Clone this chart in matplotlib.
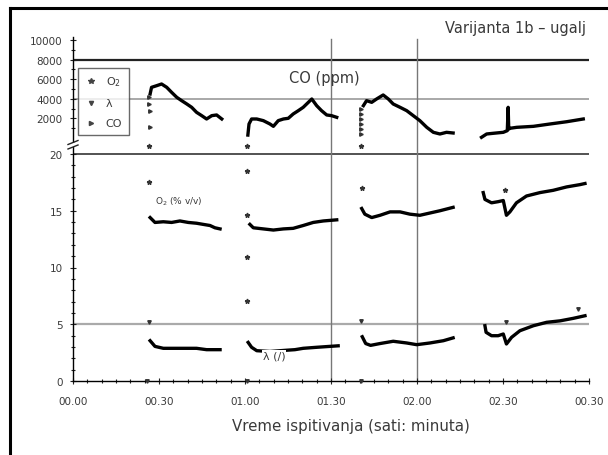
import matplotlib
matplotlib.use('Agg')
import matplotlib.pyplot as plt
from matplotlib.lines import Line2D
from matplotlib.patches import Rectangle

# ---------------- data (time in minutes) ----------------
co_t1 = [26.9, 27.4, 29.2, 30.9, 32.7, 34.4, 36.2, 37.9, 39.7, 41.4, 43.1, 44.9, 46.6, 48.4, 50.1, 51.9]
co_v1 = [4490, 5170, 5340, 5510, 5170, 4660, 4150, 3810, 3470, 3130, 2620, 2280, 1940, 2280, 2350, 1940]
co_t2 = [61.0, 61.4, 62.3, 64.1, 66.4, 68.7, 69.9, 71.6, 73.4, 75.1, 76.8, 78.6, 80.3, 82.1, 83.3, 85.0, 86.7, 88.5, 90.2, 92.0]
co_v2 = [300, 1430, 1940, 1940, 1770, 1430, 1190, 1770, 1940, 2010, 2450, 2790, 3130, 3640, 3980, 3300, 2790, 2350, 2280, 2110]
co_t3 = [101.3, 102.4, 104.2, 105.9, 108.2, 110.0, 111.7, 114.1, 116.4, 118.7, 121.0, 123.4, 125.7, 128.0, 130.3, 132.6]
co_v3 = [3300, 3810, 3640, 3980, 4390, 3980, 3470, 3130, 2790, 2280, 1770, 1090, 580, 410, 580, 510]
co_t4 = [142.5, 144.3, 146.6, 150.1, 151.5, 151.8, 152.0, 152.4, 154.8, 160.6, 166.4, 172.2, 178.0]
co_v4 = [70, 410, 480, 580, 750, 3130, 900, 990, 1090, 1190, 1430, 1660, 1940]

o2_t1 = [26.9, 28.6, 31.5, 34.4, 37.3, 40.2, 43.1, 45.4, 47.8, 49.5, 51.3]
o2_v1 = [14.4, 13.97, 14.03, 13.97, 14.1, 13.97, 13.9, 13.8, 13.7, 13.5, 13.4]
o2_t2 = [61.7, 62.9, 66.4, 69.9, 73.4, 76.8, 80.3, 83.8, 87.3, 92.0]
o2_v2 = [13.8, 13.5, 13.4, 13.3, 13.4, 13.45, 13.7, 13.97, 14.1, 14.2]
o2_t3 = [100.7, 101.8, 104.2, 107.1, 110.6, 114.1, 117.5, 121.0, 124.5, 128.0, 132.6]
o2_v3 = [15.2, 14.7, 14.4, 14.6, 14.9, 14.9, 14.7, 14.6, 14.8, 15.0, 15.3]
o2_t4 = [143.1, 143.7, 146.0, 148.3, 150.1, 151.2, 152.4, 154.7, 158.2, 162.9, 167.5, 172.2, 176.8, 178.6]
o2_v4 = [16.6, 16.0, 15.7, 15.8, 15.9, 14.6, 14.9, 15.7, 16.3, 16.6, 16.8, 17.1, 17.3, 17.4]

la_t1 = [26.9, 28.6, 31.5, 37.3, 43.1, 46.6, 51.3]
la_v1 = [3.55, 3.05, 2.88, 2.88, 2.88, 2.76, 2.76]
la_t2 = [61.1, 62.3, 64.1, 68.7, 73.9, 77.4, 80.3, 85.0, 89.6, 92.5]
la_v2 = [3.4, 2.97, 2.67, 2.6, 2.7, 2.76, 2.88, 2.97, 3.05, 3.1]
la_t3 = [100.9, 102.1, 103.8, 107.1, 111.7, 116.4, 119.9, 124.5, 129.2, 132.6]
la_v3 = [3.9, 3.3, 3.14, 3.3, 3.5, 3.35, 3.2, 3.35, 3.55, 3.8]
la_t4 = [143.7, 144.1, 146.0, 148.3, 150.1, 151.2, 153.0, 155.9, 160.6, 165.2, 169.9, 174.5, 178.6]
la_v4 = [4.87, 4.29, 3.99, 3.99, 4.14, 3.26, 3.85, 4.43, 4.87, 5.17, 5.3, 5.52, 5.75]

# transient (start-up) readings shown as separate markers
co_tr_t = [26.4, 26.4, 26.9, 26.9, 100.5, 100.5, 100.5, 100.5, 100.5, 100.5]
co_tr_v = [4150, 3470, 2790, 1090, 2960, 2450, 1940, 1430, 920, 410]
o2_tr_t = [26.4, 26.4, 60.8, 60.8, 60.8, 60.8, 60.8, 100.5, 100.7, 150.7]
o2_tr_v = [20.7, 17.5, 20.7, 18.5, 14.6, 10.9, 7.05, 20.7, 17.0, 16.8]
la_tr_t = [26.4, 25.7, 60.8, 100.3, 100.5, 151.1, 176.0]
la_tr_v = [5.17, 0.0, 0.0, 0.0, 5.26, 5.17, 6.3]

x_ticks = [0, 30, 60, 90, 120, 150, 180]
x_labels = ["00.00", "00.30", "01.00", "01.30", "02.00", "02.30", "00.30"]
low_ticks = [0, 5, 10, 15, 20]
up_ticks = [2000, 4000, 6000, 8000, 10000]
vlines_t = [90, 120]

# ---------------- figure ----------------
W, H = 608, 456
fig = plt.figure(figsize=(W / 100, H / 100), dpi=100)
TXT = '#3a3a3a'

def fx(px):
    return px / W

def fy(py):
    return 1 - py / H

left_px, right_px = 73, 589
brk_px = 146
ax_l = fig.add_axes([fx(left_px), fy(382), fx(right_px - left_px), (382 - brk_px) / H])
ax_u = fig.add_axes([fx(left_px), fy(brk_px), fx(right_px - left_px), (brk_px - 38) / H])

ax_l.set_xlim(0, 180)
ax_u.set_xlim(0, 180)
ax_l.set_ylim(0, (382 - brk_px) / 11.35)
ax_u.set_ylim((139 - brk_px) / 0.0098, (139 - 38) / 0.0098)

for ax in (ax_l, ax_u):
    ax.patch.set_alpha(0)
    for s in ('top', 'right'):
        ax.spines[s].set_visible(False)
    ax.spines['left'].set_linewidth(1.0)
    ax.tick_params(which='both', direction='inout', width=0.8, colors='#222',
                   labelcolor=TXT, labelsize=7.5)
    ax.tick_params(which='major', length=5)
    ax.tick_params(which='minor', length=3)
    ax.tick_params(axis='y', pad=5)
ax_u.spines['bottom'].set_visible(False)
ax_u.tick_params(axis='x', which='both', bottom=False, labelbottom=False)
ax_l.spines['bottom'].set_linewidth(1.0)
ax_l.tick_params(axis='x', pad=8)

ax_l.set_xticks(x_ticks)
ax_l.set_xticklabels(x_labels)
ax_l.set_xticks(range(0, 181, 5), minor=True)
ax_l.set_yticks(low_ticks)
ax_l.set_yticks(range(0, 21), minor=True)
ax_u.set_yticks(up_ticks)
ax_u.set_yticks(range(1000, 10001, 1000), minor=True)

# reference lines
ax_u.axhline(8000, color='#222', lw=1.6, zorder=1)
ax_u.axhline(4000, color='#999', lw=1.2, zorder=1)
ax_l.axhline(20, color='#444', lw=1.3, zorder=1)
ax_l.axhline(5, color='#aaa', lw=1.6, zorder=1)
for t in vlines_t:
    ax_l.axvline(t, color='#777', lw=1.0, zorder=1)
    ax_u.axvline(t, color='#777', lw=1.0, zorder=1, ymax=(brk_px - 40) / (brk_px - 38))

# data lines
LW = 2.4
for t, v in ((co_t1, co_v1), (co_t2, co_v2), (co_t3, co_v3), (co_t4, co_v4)):
    ax_u.plot(t, v, color='k', lw=LW, solid_joinstyle='round', zorder=3)
for t, v in ((o2_t1, o2_v1), (o2_t2, o2_v2), (o2_t3, o2_v3), (o2_t4, o2_v4)):
    ax_l.plot(t, v, color='k', lw=LW, solid_joinstyle='round', zorder=3)
for t, v in ((la_t1, la_v1), (la_t2, la_v2), (la_t3, la_v3), (la_t4, la_v4)):
    ax_l.plot(t, v, color='k', lw=LW, solid_joinstyle='round', zorder=3)

ax_u.plot(co_tr_t, co_tr_v, ls='none', marker='>', ms=2.5, color='#333', zorder=3)
ax_l.plot(o2_tr_t, o2_tr_v, ls='none', marker='*', ms=3.5, color='#333', zorder=3, clip_on=False)
ax_l.plot(la_tr_t, la_tr_v, ls='none', marker='v', ms=2.5, color='#333', zorder=3, clip_on=False)

# legend
handles = [Line2D([], [], ls='none', marker='*', ms=4, color='#444'),
           Line2D([], [], ls='none', marker='v', ms=3, color='#444'),
           Line2D([], [], ls='none', marker='>', ms=3, color='#444')]
leg = ax_u.legend(handles, ['O$_2$', 'λ', 'CO'], loc='upper left',
                  bbox_to_anchor=(fx(78 - left_px) / fx(right_px - left_px), (brk_px - 69) / (brk_px - 38)),
                  borderaxespad=0, fontsize=8, frameon=True, fancybox=False,
                  edgecolor='#444', labelspacing=0.9, handletextpad=0.7,
                  handlelength=1.2, borderpad=0.6, labelcolor=TXT)
leg.get_frame().set_linewidth(1.0)

# annotations
ax_u.text(75.5, 6220, 'CO (ppm)', fontsize=10.5, color=TXT, va='center', ha='left')
ax_l.text(28.6, 15.9, 'O$_2$ (% v/v)', fontsize=6.5, color=TXT, va='center', ha='left')
ax_l.text(66.3, 2.25, 'λ (/)', fontsize=8, color=TXT, va='center', ha='left',
          bbox=dict(facecolor='white', edgecolor='none', pad=0.5), zorder=4)
fig.text(fx(586), fy(28), 'Varijanta 1b – ugalj', fontsize=10.5, color=TXT, ha='right', va='center')
fig.text(fx(351), fy(427), 'Vreme ispitivanja (sati: minuta)', fontsize=10.8, color=TXT,
         ha='center', va='center')

# axis break mark
fig.add_artist(Rectangle((fx(68), fy(148)), fx(12), 4 / H, transform=fig.transFigure,
                         facecolor='white', edgecolor='none', zorder=5))
for off in (0, 4.5):
    fig.add_artist(Line2D([fx(68), fx(78)], [fy(145.5 + off), fy(141.5 + off)],
                          transform=fig.transFigure, color='#222', lw=1.0, zorder=6))

# outer frame (top and left edges)
fig.add_artist(Line2D([fx(10), fx(608)], [fy(9), fy(9)], transform=fig.transFigure,
                      color='k', lw=2.2))
fig.add_artist(Line2D([fx(10), fx(10)], [fy(9), fy(456)], transform=fig.transFigure,
                      color='k', lw=2.2))

fig.savefig('out.png', dpi=100)
